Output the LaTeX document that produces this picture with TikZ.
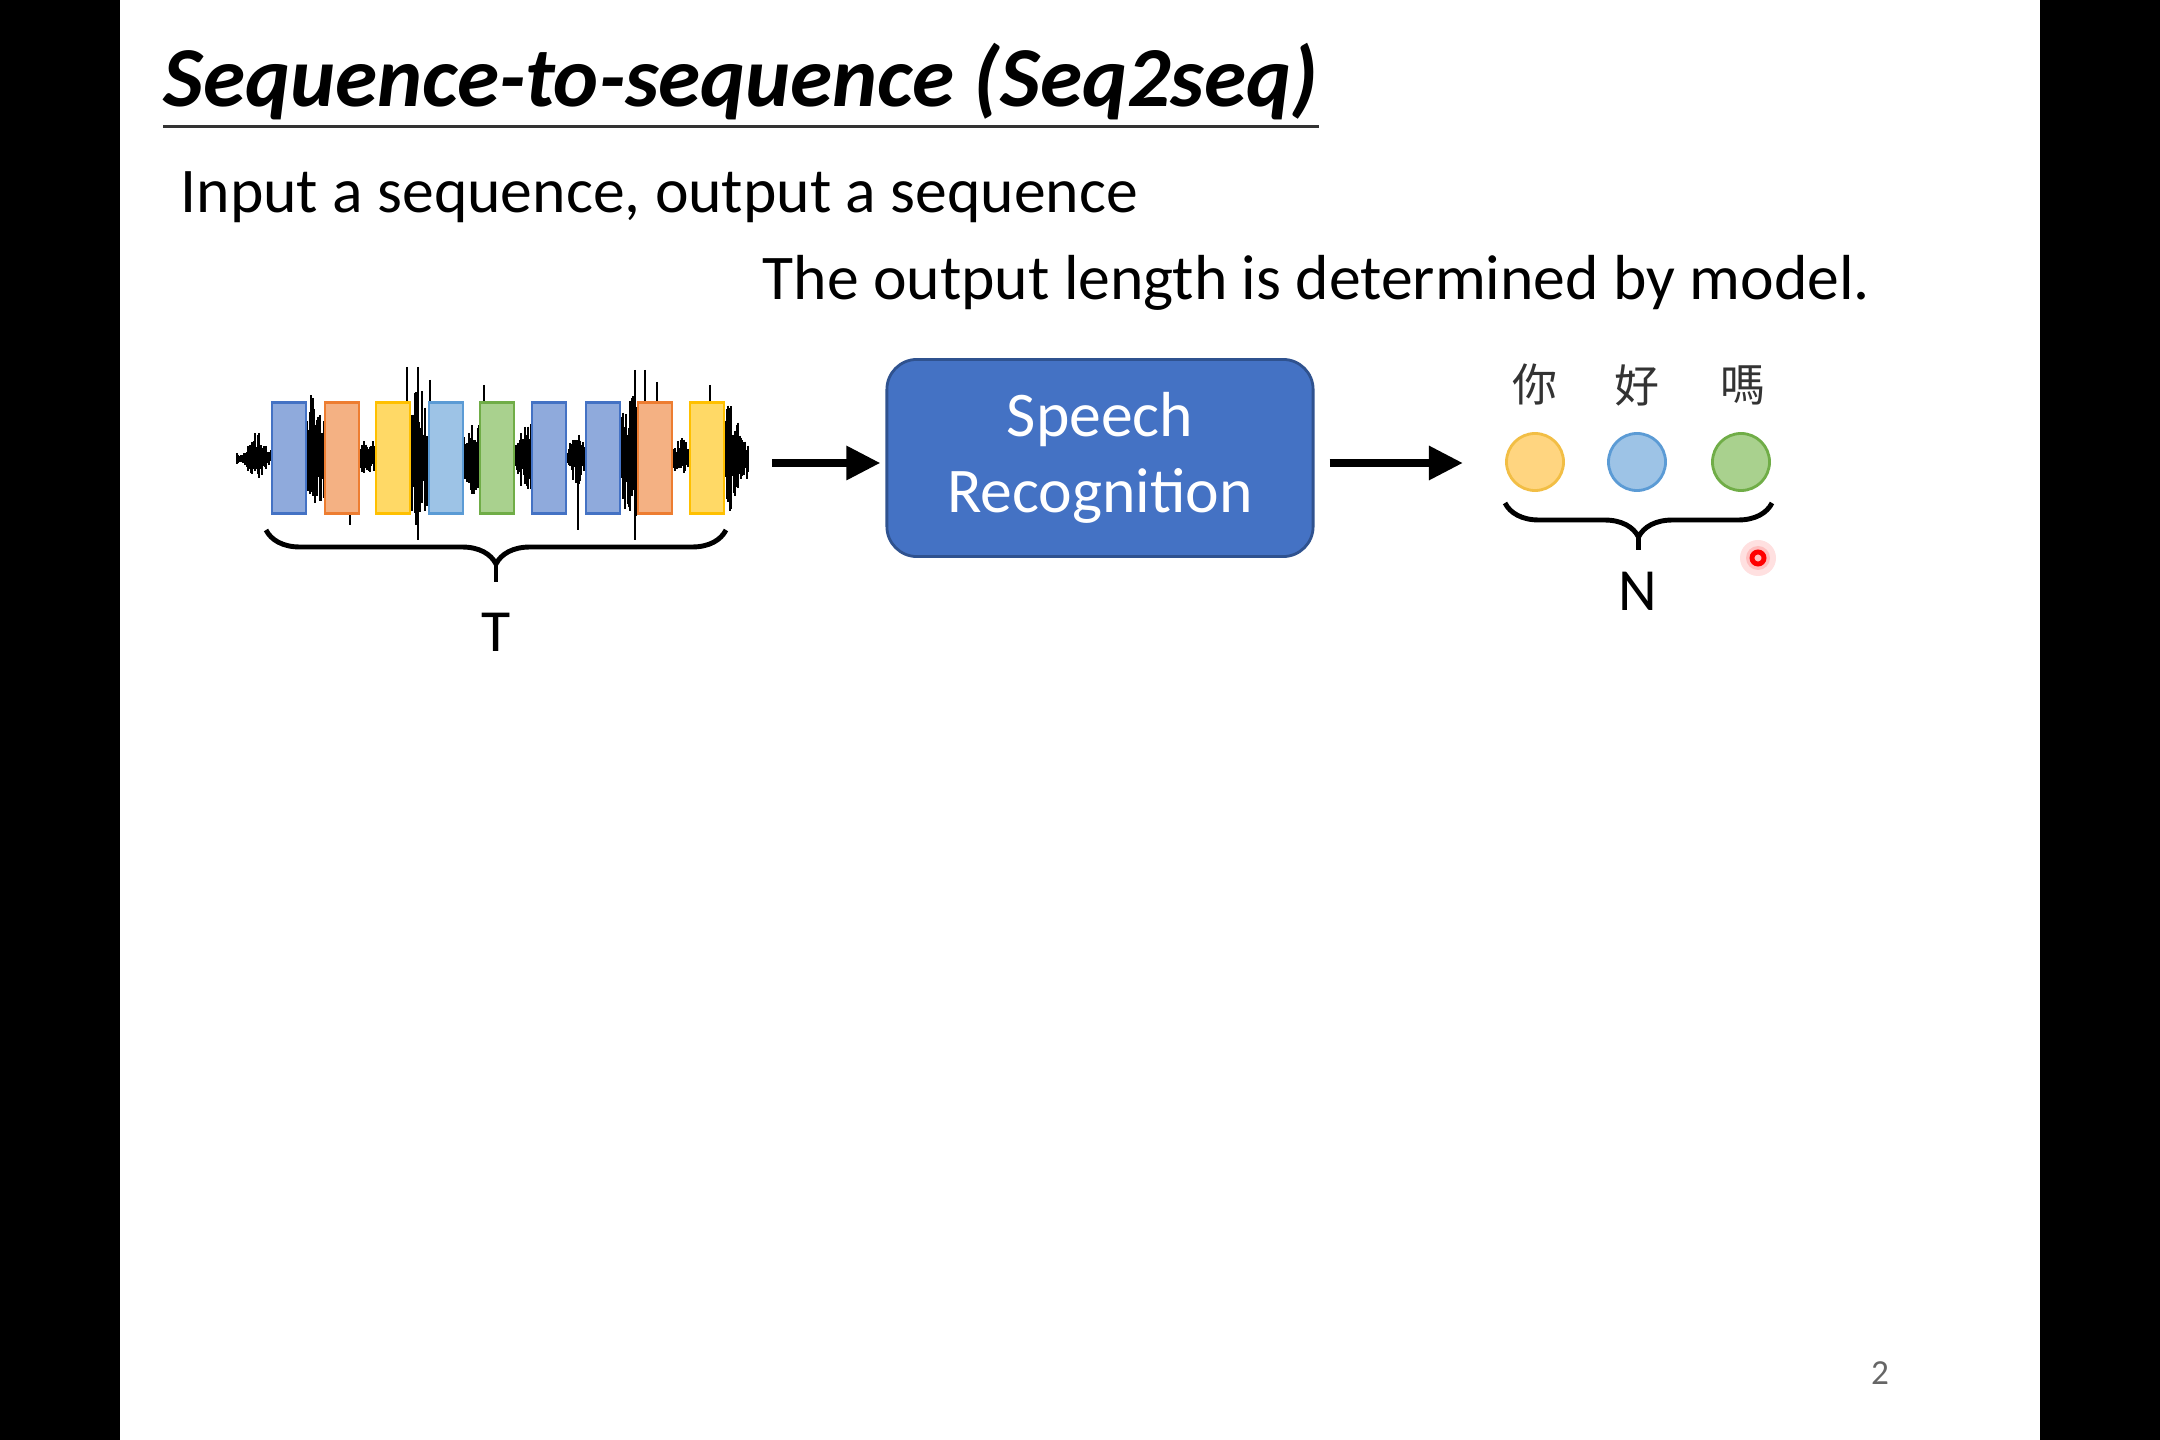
\documentclass[tikz,border=0pt]{standalone}
\usepackage{fontspec}
\setmainfont{Carlito}
\newfontfamily\cjk{Noto Sans CJK TC}
\usetikzlibrary{positioning,arrows.meta,calc,decorations.pathreplacing}

\definecolor{barblue}{HTML}{8FAADC}
\definecolor{barblueL}{HTML}{4472C4}
\definecolor{barorange}{HTML}{F4B183}
\definecolor{barorangeL}{HTML}{ED7D31}
\definecolor{baryellow}{HTML}{FFD966}
\definecolor{baryellowL}{HTML}{FFC000}
\definecolor{barsky}{HTML}{9DC3E6}
\definecolor{barskyL}{HTML}{5B9BD5}
\definecolor{bargreen}{HTML}{A9D18E}
\definecolor{bargreenL}{HTML}{70AD47}
\definecolor{asrblue}{HTML}{4472C4}
\definecolor{asrline}{HTML}{2F528F}
\definecolor{dotyellow}{HTML}{FFD580}
\definecolor{dotyellowL}{HTML}{F2BE45}

\begin{document}
\begin{tikzpicture}[
    x=0.01cm,
    y=-0.01cm,
    >={Triangle[length=9.7pt,width=9.2pt]},
    declare function={tri(\t,\c,\w)=max(0,1-abs(\t-\c)/\w);},
    framebar/.style={inner sep=0pt, minimum width=0.34cm, minimum height=1.11cm, line width=0.6pt},
    token/.style={circle, inner sep=0pt, minimum size=0.57cm, line width=0.8pt},
    asrbox/.style={draw=asrline, fill=asrblue, line width=0.8pt, rounded corners=0.3cm, minimum width=4.26cm, minimum height=1.97cm, align=center, text=white, font=\fontsize{18.1}{21.6}\selectfont},
    bracepath/.style={decorate, decoration={brace, mirror, amplitude=0.34cm}, line width=1.4pt},
    bigarrow/.style={->, line width=2.3pt},
    cjkchar/.style={inner sep=0pt, font=\cjk\fontsize{12.8}{14}\selectfont, text=black!80},
    letter/.style={inner sep=0pt, font=\fontsize{17}{20}\selectfont}
]
\useasboundingbox (0,0) rectangle (2160,1440);
\fill[white] (120,0) rectangle (2040,1440);
\fill[black] (0,0) rectangle (120,1440);
\fill[black] (2040,0) rectangle (2160,1440);

% --- Texts ---
\node[anchor=base west, inner sep=0pt, font=\fontsize{24.3}{28}\selectfont\bfseries\itshape] (title) at (163,107) {Sequence-to-sequence (Seq2seq)};
\draw[black!80, line width=0.85pt] ([yshift=-0.05cm]title.south west) -- ([yshift=-0.05cm]title.south east);
\node[anchor=base west, inner sep=0pt, font=\fontsize{18.1}{21}\selectfont] (intro) at (180,213) {Input a sequence, output a sequence};
\node[anchor=base west, inner sep=0pt, font=\fontsize{18.1}{21}\selectfont] (remark) at (762,300) {The output length is determined by model.};

% --- Waveform ---
\pgfmathsetseed{11}
\foreach \t in {237,238.4,...,748} {
    \pgfmathsetmacro\amp{6+25*tri(\t,258,14)+60*tri(\t,312,28)+18*tri(\t,368,12)+75*tri(\t,418,24)+42*tri(\t,474,16)+38*tri(\t,528,16)+24*tri(\t,578,16)+65*tri(\t,632,24)+18*tri(\t,682,12)+50*tri(\t,730,24)}
    \pgfmathsetmacro\up{\amp*(0.35+0.65*rnd)}
    \pgfmathsetmacro\dn{\amp*(0.35+0.65*rnd)}
    \draw[line width=0.55pt] (\t,458-\up) -- (\t,458+\dn);
}
\foreach \t/\ya/\yb in {350/440/525, 407/367/462, 418/367/540, 430/380/500, 484/385/470, 578/440/530, 635/370/540, 645/370/470, 657/382/470, 710/385/455} {
    \draw[line width=0.6pt] (\t,\ya) -- (\t,\yb);
}
\draw[line width=1pt] (237,458) -- (748,458);

% --- Frames ---
\foreach \x/\col/\edge [count=\i] in {272/barblue/barblueL, 325/barorange/barorangeL, 376/baryellow/baryellowL, 429/barsky/barskyL, 480/bargreen/bargreenL, 532/barblue/barblueL, 586/barblue/barblueL, 638/barorange/barorangeL, 690/baryellow/baryellowL} {
    \node[framebar, fill=\col, draw=\edge] (bar\i) at (\x+17,458) {};
}

% --- Model ---
\node[asrbox] (asr) at (1100,458) {Speech\\Recognition};
\coordinate (wavetail) at (772,463);
\coordinate (outhead) at (1463,463);
\draw[bigarrow, shorten >=0.05cm] (wavetail) -- (asr.west |- wavetail);
\draw[bigarrow, shorten <=0.15cm] (asr.east |- outhead) -- (outhead);

% --- Output tokens ---
\node[token, fill=dotyellow, draw=dotyellowL] (out1) at (1535,462) {};
\node[token, fill=barsky, draw=barskyL] (out2) at (1637,462) {};
\node[token, fill=bargreen, draw=bargreenL] (out3) at (1741,462) {};
\node[cjkchar] (ch1) at (1535,385) {你};
\node[cjkchar] (ch2) at (1637,385) {好};
\node[cjkchar] (ch3) at (1743,385) {嗎};

% --- Braces ---
\coordinate (tleft) at (266,530);
\coordinate (tright) at (726,530);
\draw[bracepath] (tleft) -- (tright);
\draw[line width=1.4pt] ($(tleft)!0.5!(tright)+(0,34)$) -- ++(0,18);
\node[letter] (lenT) at (496,632) {T};

\coordinate (nleft) at (1505,503);
\coordinate (nright) at (1772,503);
\draw[bracepath] (nleft) -- (nright);
\draw[line width=1.4pt] ($(nleft)!0.5!(nright)+(0,34)$) -- ++(0,13);
\node[letter] (lenN) at (1638,591) {N};

% --- Pointer and page number ---
\fill[red!12] (1758,558) circle (18);
\fill[red!25] (1758,558) circle (12);
\draw[red, line width=1.4pt] (1758,558) circle (6);
\node[inner sep=0pt, font=\fontsize{10}{12}\selectfont, text=black!60] (pagenum) at (1880,1373) {2};
\end{tikzpicture}
\end{document}
